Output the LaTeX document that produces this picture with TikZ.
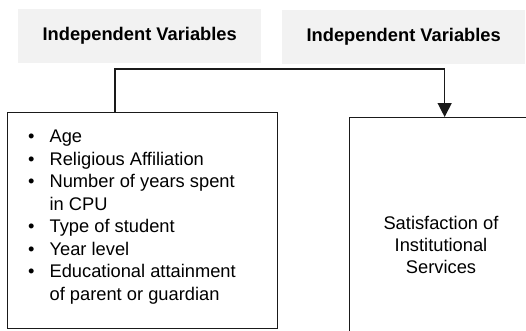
\documentclass[tikz,border=0pt]{standalone}
\usepackage{fontspec}
\setmainfont{Liberation Sans}
\usetikzlibrary{arrows.meta,positioning}
\definecolor{headgray}{HTML}{F2F2F2}
\definecolor{linegray}{HTML}{1A1A1A}
\begin{document}
\begin{tikzpicture}[x=1pt,y=-1pt,
	head/.style={shape=rectangle, fill=headgray, draw=none, anchor=north west, minimum width=243, minimum height=54, font=\fontsize{18.3}{20}\selectfont\bfseries},
	box/.style={shape=rectangle, draw=linegray, line width=1.3pt, anchor=north west},
	link/.style={draw=linegray, line width=1.3pt},
	itemtext/.style={align=left, anchor=north west, inner sep=0pt, font=\fontsize{18.3}{22.5}\selectfont}]
		\useasboundingbox (0,0) rectangle (526,330);
		\clip (0,0) rectangle (526,330);
		\node[head] (indep1) at (18,9) {Independent Variables};
		\node[head] (indep2) at (282,10) {Independent Variables};
		\node[box, minimum width=270, minimum height=216] (vars) at (7,112) {};
		\node[box, minimum width=190, minimum height=240] (sat) at (349,117) {};
		\node[itemtext] (list) at (28,130) {%
			\textbullet\hspace{15pt}Age\\
			\textbullet\hspace{15pt}Religious Affiliation\\
			\textbullet\hspace{15pt}Number of years spent\\
			\hphantom{\textbullet}\hspace{15pt}in CPU\\
			\textbullet\hspace{15pt}Type of student\\
			\textbullet\hspace{15pt}Year level\\
			\textbullet\hspace{15pt}Educational attainment\\
			\hphantom{\textbullet}\hspace{15pt}of parent or guardian};
		\node[align=center, font=\fontsize{18.3}{22}\selectfont] (satlabel) at (441,245) {Satisfaction of\\Institutional\\Services};
		\coordinate (fork) at (115,69);
		\draw[link, -{Triangle[width=14pt,length=14pt]}] (vars.north -| fork) -- (fork) -| (sat.north);
\end{tikzpicture}
\end{document}
